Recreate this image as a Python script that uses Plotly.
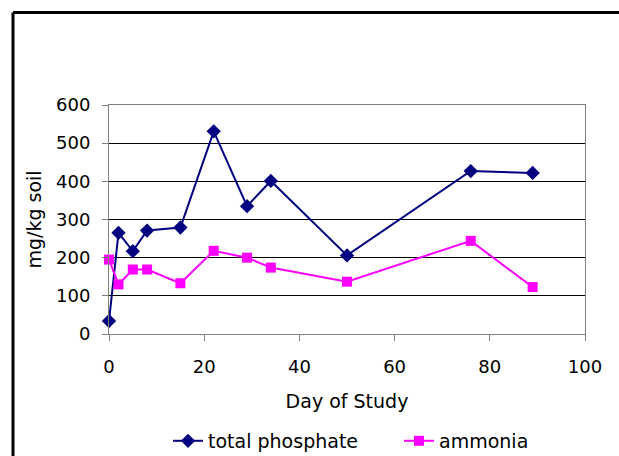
import plotly.graph_objects as go

# Sampling days and measured concentrations (mg/kg soil)
days = [0, 2, 5, 8, 15, 22, 29, 34, 50, 76, 89]
total_phosphate = [34, 265, 217, 271, 279, 531, 335, 401, 206, 427, 422]
ammonia = [195, 130, 169, 169, 133, 218, 200, 174, 137, 244, 123]

x_ticks = [0, 20, 40, 60, 80, 100]
y_ticks = [0, 100, 200, 300, 400, 500, 600]

FONT = "DejaVu Sans"
GREY = "#808080"
TXT = dict(family=FONT, size=19, color="black")
TICK = dict(family=FONT, size=18, color="black")

fig = go.Figure()
fig.add_trace(go.Scatter(
    x=days, y=total_phosphate, name="total phosphate", mode="lines+markers",
    line=dict(color="#000080", width=2),
    marker=dict(symbol="diamond", size=11, color="#000080"),
    cliponaxis=False,
))
fig.add_trace(go.Scatter(
    x=days, y=ammonia, name="ammonia", mode="lines+markers",
    line=dict(color="#FF00FF", width=2),
    marker=dict(symbol="square", size=10, color="#FF00FF"),
    cliponaxis=False,
))

# Outer chart frame (top and left edges)
fig.add_shape(type="line", xref="paper", yref="paper",
              x0=-0.2017, y0=1.404, x1=1.08, y1=1.404,
              line=dict(color="black", width=3))
fig.add_shape(type="line", xref="paper", yref="paper",
              x0=-0.2017, y0=1.404, x1=-0.2017, y1=-0.56,
              line=dict(color="black", width=3))

fig.update_layout(
    width=619, height=456,
    margin=dict(l=109, r=34, t=105, b=122, autoexpand=False),
    paper_bgcolor="white", plot_bgcolor="white",
    font=TXT,
    showlegend=True,
    legend=dict(orientation="h", x=0.124, xanchor="left",
                y=-0.467, yanchor="middle",
                entrywidth=186, entrywidthmode="pixels",
                font=TXT, bgcolor="rgba(0,0,0,0)"),
)
fig.update_xaxes(
    range=[0, 100], tickvals=x_ticks, ticktext=[str(v) for v in x_ticks],
    tickfont=TICK,
    ticks="outside", ticklen=6, tickcolor=GREY, tickwidth=1,
    ticklabelstandoff=10,
    showline=True, linecolor=GREY, linewidth=1, mirror=True,
    showgrid=False, zeroline=False,
    title=dict(text="Day of Study", font=TXT, standoff=19),
)
fig.update_yaxes(
    range=[0, 600], tickvals=y_ticks, ticktext=[str(v) for v in y_ticks],
    tickfont=TICK,
    ticks="outside", ticklen=6, tickcolor=GREY, tickwidth=1,
    ticklabelstandoff=8,
    showline=True, linecolor=GREY, linewidth=1, mirror=True,
    showgrid=True, gridcolor="black", gridwidth=1, zeroline=False,
    title=dict(text="mg/kg soil", font=TXT, standoff=9),
)

fig.write_html("out.html")
